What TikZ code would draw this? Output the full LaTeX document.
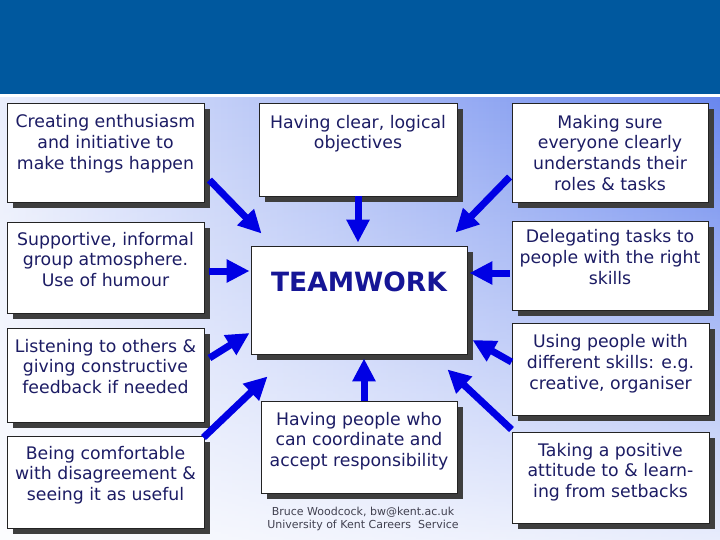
\documentclass[tikz,border=0pt]{standalone}
\usepackage{fontspec}
\setmainfont{DejaVu Sans}
\usetikzlibrary{arrows.meta,calc,shadows,fadings}
\definecolor{band}{RGB}{0,88,158}
\definecolor{bgleft}{RGB}{234,238,252}
\definecolor{bgright}{RGB}{105,135,238}
\definecolor{navy}{RGB}{28,28,100}
\definecolor{twblue}{RGB}{22,22,150}
\definecolor{arrowblue}{RGB}{0,0,228}
\definecolor{shadowgray}{RGB}{62,62,62}
\definecolor{boxline}{RGB}{35,35,35}
\definecolor{credit}{RGB}{65,65,80}
\begin{document}
\begin{tikzpicture}[x=1pt,y=-1pt,
  tbox/.style={draw=boxline, line width=0.9pt, fill=white, inner sep=0pt,
    drop shadow={shadow xshift=6pt, shadow yshift=-6pt, fill=shadowgray, opacity=1}},
  txt/.style={anchor=north, align=center, inner sep=0pt, text=navy,
    font=\fontsize{17.3}{20.6}\selectfont},
  arr/.style={draw=arrowblue, line width=7pt,
    -{Triangle[width=22pt,length=23pt]}, arrowblue}]
\useasboundingbox (0,0) rectangle (720,540);
\fill[white] (0,0) rectangle (720,540);
\fill[band] (0,0) rectangle (720,94);
\shade[left color=bgleft, right color=bgright] (0,98) rectangle (720,540);
\fill[white, path fading=north, fill opacity=0.85] (0,98) rectangle (720,540);

% boxes
\node[tbox, minimum width=197pt, minimum height=99pt] (b1) at (105.5,152.5) {};
\node[tbox, minimum width=197pt, minimum height=91pt] (b2) at (105.5,267.5) {};
\node[tbox, minimum width=197pt, minimum height=94pt] (b3) at (105.5,375) {};
\node[tbox, minimum width=197pt, minimum height=92pt] (b4) at (105.5,482) {};
\node[tbox, minimum width=198pt, minimum height=93pt] (t1) at (358,149.5) {};
\node[tbox, minimum width=216pt, minimum height=108pt] (tw) at (359,300) {};
\node[tbox, minimum width=196pt, minimum height=92pt] (t2) at (359,447) {};
\node[tbox, minimum width=196pt, minimum height=99pt] (r1) at (610,152.5) {};
\node[tbox, minimum width=196pt, minimum height=89pt] (r2) at (610,265.5) {};
\node[tbox, minimum width=197pt, minimum height=92pt] (r3) at (610.5,369) {};
\node[tbox, minimum width=197pt, minimum height=91pt] (r4) at (610.5,477.5) {};

% texts
\node[txt] (b1t) at ($(b1.north)+(0,12)$) {Creating enthusiasm\\and initiative to\\make things happen};
\node[txt] (b2t) at ($(b2.north)+(0,10.5)$) {Supportive, informal\\group atmosphere.\\Use of humour};
\node[txt] (b3t) at ($(b3.north)+(0,11.5)$) {Listening to others \&\\giving constructive\\feedback if needed};
\node[txt] (b4t) at ($(b4.north)+(0,10.5)$) {Being comfortable\\with disagreement \&\\seeing it as useful};
\node[txt] (t1t) at ($(t1.north)+(0,12.5)$) {Having clear, logical\\objectives};
\node[anchor=north, inner sep=0pt, text=twblue, font=\fontsize{26.5}{30}\selectfont\bfseries] (twt) at ($(tw.north)+(0,26)$) {TEAMWORK};
\node[txt] (t2t) at ($(t2.north)+(0,11.5)$) {Having people who\\can coordinate and\\accept responsibility};
\node[txt] (r1t) at ($(r1.north)+(0,12.5)$) {Making sure\\everyone clearly\\understands their\\roles \& tasks};
\node[txt] (r2t) at ($(r2.north)+(0,9)$) {Delegating tasks to\\people with the right\\skills};
\node[txt] (r3t) at ($(r3.north)+(0,12)$) {Using people with\\different skills: e.g.\\creative, organiser};
\node[txt] (r4t) at ($(r4.north)+(0,11.5)$) {Taking a positive\\attitude to \& learn-\\ing from setbacks};
\node[align=center, inner sep=0pt, text=credit, font=\fontsize{11}{13}\selectfont] (cr) at (363,519) {Bruce Woodcock, bw@kent.ac.uk\\University of Kent Careers~ Service};

% arrows
\draw[arr] ($(b1.east)+(5,27.5)$) -- ($(tw.north west)+(11,-12)$);
\draw[arr] (t1.south) -- ($(tw.north)+(-1,-3)$);
\draw[arr] ($(r1.west)+(-2,24.5)$) -- ($(tw.north east)+(-12,-13)$);
\draw[arr] ($(b2.east)+(5,3.5)$) -- ($(tw.west)+(-1,-29)$);
\draw[arr] ($(r2.west)+(-2,7.5)$) -- ($(tw.east)+(2,-27)$);
\draw[arr] ($(b3.east)+(5,-17)$) -- ($(tw.west)+(-1,33)$);
\draw[arr] ($(r3.west)+(0,-7)$) -- ($(tw.east)+(5,40)$);
\draw[arr] ($(b4.north east)+(-1,2)$) -- ($(tw.south west)+(17,22)$);
\draw[arr] ($(t2.north)+(5,0)$) -- ($(tw.south)+(5,4)$);
\draw[arr] ($(r4.north west)+(0,-2)$) -- ($(tw.south east)+(-20,15)$);
\end{tikzpicture}
\end{document}
